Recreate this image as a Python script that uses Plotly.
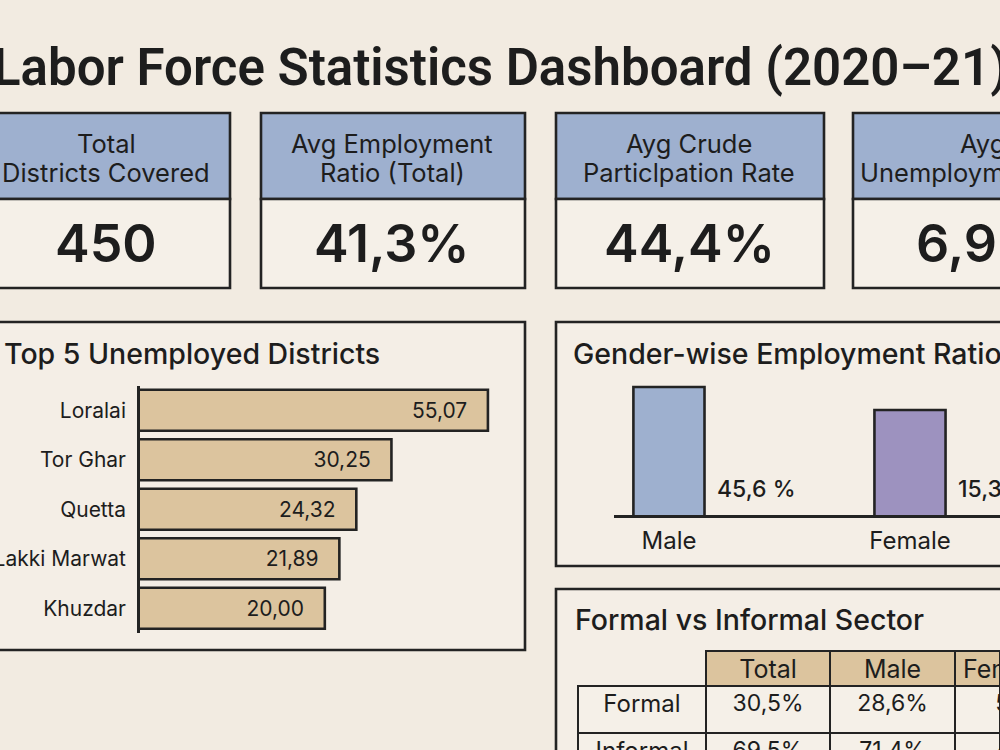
import plotly.graph_objects as go

# ---------------- data ----------------
title_text = "Labor Force Statistics Dashboard (2020–21)"

kpi_line1 = ["Total", "Avg Employment", "Ayg Crude", "Ayg"]
kpi_line2 = ["Districts Covered", "Ratio (Total)", "Particlpation Rate", "Unemployment Rate"]
kpi_values = [450, 41.3, 44.4, 6.9]
kpi_is_pct = [False, True, True, True]

districts = ["Loralai", "Tor Ghar", "Quetta", "Lakki Marwat", "Khuzdar"]
unemployment = [55.07, 30.25, 24.32, 21.89, 20.00]

genders = ["Male", "Female"]
employment_ratio = [45.6, 15.3]

sector_cols = ["Total", "Male", "Female"]
sectors = ["Formal", "Informal"]
sector_total = [30.5, 69.5]
sector_male = [28.6, 71.4]
sector_female = [52.4, 47.6]

# ---------------- style ----------------
BG = "#f2ebe1"
PANEL = "#f4eee6"
CARD_BODY = "#f5f0e8"
BLUE = "#9eb0cf"
PURPLE = "#9d92bf"
TAN = "#dcc49e"
INK = "#1d1d1d"
LINE = "#232323"
LW = 2.6
FONT = "Inter, Noto Sans, Liberation Sans, sans-serif"
W, H = 1000, 750


def fx(px):
    return px / W


def fy(py):
    return 1 - py / H


def fmt_pct(v, sep=""):
    return f"{v:.1f}".replace(".", ",") + sep + "%"


shapes = []
annotations = []

# title
annotations.append(dict(text=title_text, x=fx(500), y=fy(67), xref="paper", yref="paper",
                        xanchor="center", yanchor="middle", showarrow=False,
                        font=dict(family="Roboto, Liberation Sans, sans-serif",
                                  size=51, color=INK, weight=600)))

# KPI cards
card_x = [(-6, 230), (261, 525), (556, 824), (853, 1121)]
card_center = [106, 392, 689, 982]
for (x0, x1), cx, l1, l2, v, pct in zip(card_x, card_center, kpi_line1, kpi_line2, kpi_values, kpi_is_pct):
    shapes.append(dict(type="rect", xref="paper", yref="paper", x0=fx(x0), x1=fx(x1), y0=fy(199), y1=fy(113),
                       fillcolor=BLUE, line=dict(color=LINE, width=LW)))
    shapes.append(dict(type="rect", xref="paper", yref="paper", x0=fx(x0), x1=fx(x1), y0=fy(288), y1=fy(199),
                       fillcolor=CARD_BODY, line=dict(color=LINE, width=LW)))
    annotations.append(dict(text=l1, x=fx(cx), y=fy(143), xref="paper", yref="paper", showarrow=False,
                            xanchor="center", yanchor="middle", font=dict(family=FONT, size=25.5, color=INK)))
    annotations.append(dict(text=l2, x=fx(cx), y=fy(172), xref="paper", yref="paper", showarrow=False,
                            xanchor="center", yanchor="middle", font=dict(family=FONT, size=25.5, color=INK)))
    vtxt = fmt_pct(v) if pct else f"{v:d}"
    annotations.append(dict(text=vtxt, x=fx(cx), y=fy(244), xref="paper", yref="paper", showarrow=False,
                            xanchor="center", yanchor="middle",
                            font=dict(family=FONT, size=52, color=INK, weight=600)))

# panels
for (x0, y0, x1, y1) in [(-6, 322, 525, 650), (556, 322, 1010, 566), (556, 589, 1010, 760)]:
    shapes.append(dict(type="rect", xref="paper", yref="paper", x0=fx(x0), x1=fx(x1), y0=fy(y1), y1=fy(y0),
                       fillcolor=PANEL, line=dict(color=LINE, width=LW), layer="below"))

for t, x, y in [("Top 5 Unemployed Districts", 2, 353), ("Gender-wise Employment Ratio", 571, 353),
                ("Formal vs Informal Sector", 573, 619)]:
    annotations.append(dict(text=t, x=fx(x), y=fy(y), xref="paper", yref="paper", showarrow=False,
                            xanchor="left", yanchor="middle",
                            font=dict(family=FONT, size=28.5, color=INK, weight=500)))

fig = go.Figure()

# Top-5 bar chart
fig.add_trace(go.Bar(
    x=unemployment, y=districts, orientation="h", xaxis="x", yaxis="y",
    marker=dict(color=TAN, line=dict(color=LINE, width=LW)),
    texttemplate="%{x:.2f}\u00a0\u00a0\u00a0", textposition="inside", insidetextanchor="end",
    textangle=0, textfont=dict(family=FONT, size=21, color=INK), cliponaxis=True,
    hoverinfo="skip", showlegend=False))

# Gender bar chart
fig.add_trace(go.Bar(
    x=genders, y=employment_ratio, xaxis="x2", yaxis="y2", width=0.295,
    marker=dict(color=[BLUE, PURPLE], line=dict(color=LINE, width=LW)),
    hoverinfo="skip", showlegend=False))
for g, v in zip(genders, employment_ratio):
    annotations.append(dict(text=fmt_pct(v, " "), x=g, y=0, xref="x2", yref="y2 domain", showarrow=False,
                            xanchor="left", yanchor="middle", xshift=46, yshift=26,
                            font=dict(family=FONT, size=23, color=INK, weight=500)))

# Sector table
nb = "\u00a0" * 5
fig.add_trace(go.Table(
    domain=dict(x=[fx(578), 1.0], y=[0.0, fy(651)]),
    columnwidth=[128, 124, 125, 45],
    header=dict(values=[""] + sector_cols,
                fill=dict(color=["rgba(0,0,0,0)", TAN, TAN, TAN]),
                line=dict(color=["rgba(0,0,0,0)", LINE, LINE, LINE], width=LW),
                align=["center", "center", "center", "left"], height=35,
                font=dict(family=FONT, size=25, color=INK)),
    cells=dict(values=[sectors,
                       [fmt_pct(v) for v in sector_total],
                       [fmt_pct(v) for v in sector_male],
                       [nb + fmt_pct(v) for v in sector_female]],
               fill=dict(color=CARD_BODY), line=dict(color=LINE, width=LW),
               align=["center", "center", "center", "left"], height=47,
               font=dict(family=FONT, size=[24, 23, 23, 23], color=INK))))

fig.update_layout(
    width=W, height=H, margin=dict(l=0, r=0, t=0, b=0, autoexpand=False),
    paper_bgcolor=BG, plot_bgcolor="rgba(0,0,0,0)", separators=",.",
    shapes=shapes, annotations=annotations, bargap=0.17,
    xaxis=dict(domain=[fx(140), fx(500)], type="log", range=[0.8026, 1.7735], automargin=False,
               showgrid=False, zeroline=False, showticklabels=False, showline=False, fixedrange=True),
    yaxis=dict(domain=[fy(633), fy(385.5)], autorange="reversed", type="category", automargin=False,
               showgrid=False, zeroline=False, showline=True, linecolor=LINE, linewidth=LW,
               ticks="", ticklabelstandoff=7,
               tickfont=dict(family=FONT, size=21, color=INK), fixedrange=True),
    xaxis2=dict(domain=[fx(614), 1.0], anchor="y2", type="category", range=[-0.228, 1.3734],
                automargin=False,
                showgrid=False, zeroline=False, showline=True, linecolor=LINE, linewidth=LW,
                ticks="", ticklabelstandoff=2,
                tickfont=dict(family=FONT, size=24, color=INK), fixedrange=True),
    yaxis2=dict(domain=[fy(515), fy(380)], anchor="x2", type="log", range=[-0.980, 1.804],
                automargin=False,
                showgrid=False, zeroline=False, showticklabels=False, showline=False, fixedrange=True),
)

fig.write_html("out.html")
